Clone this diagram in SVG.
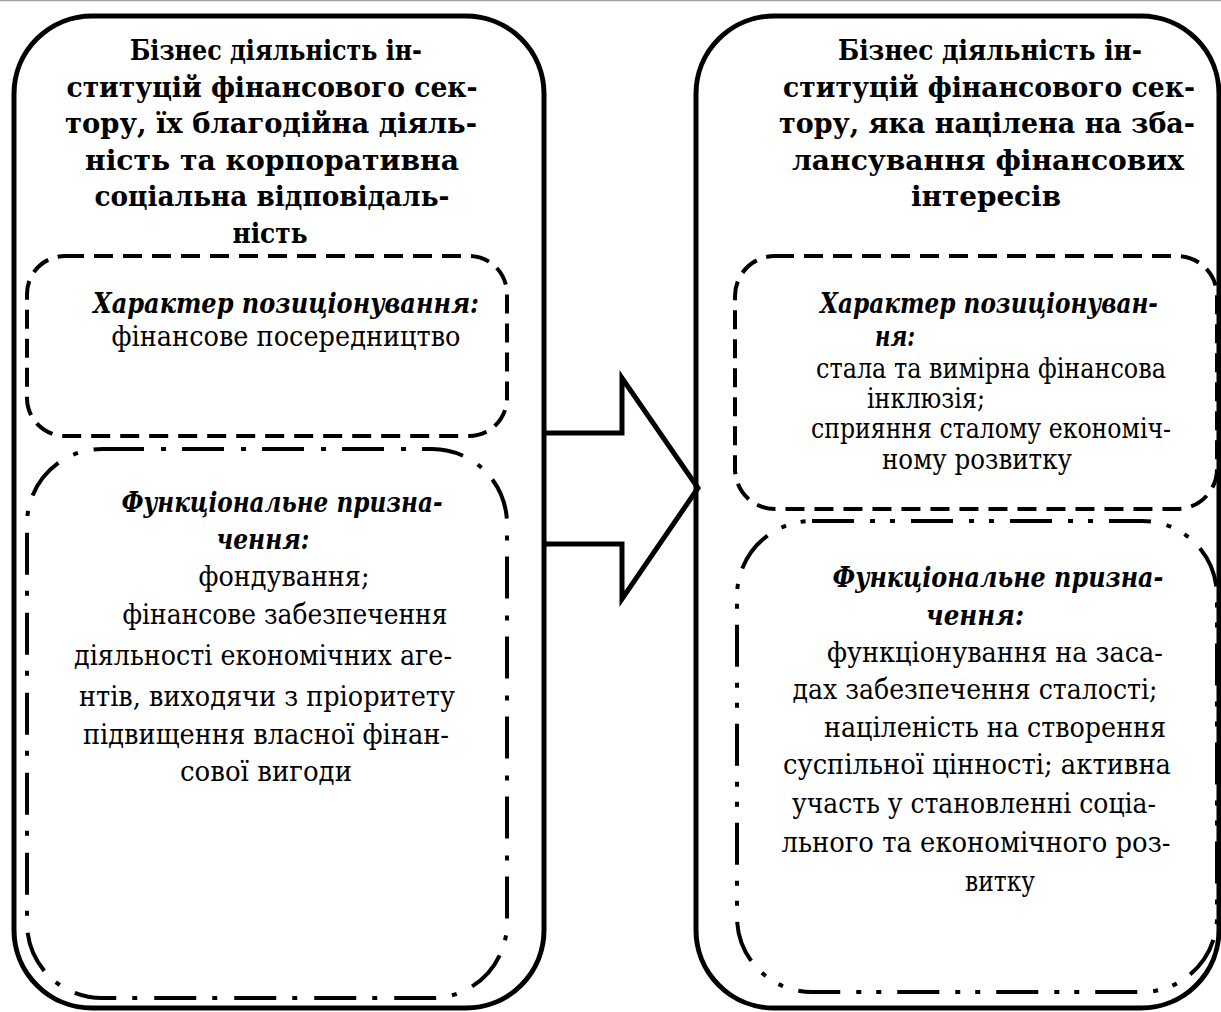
<svg xmlns="http://www.w3.org/2000/svg" width="1221" height="1012" viewBox="0 0 1221 1012">
<style>
.outer{fill:none;stroke:#000;stroke-width:5}
.dash{fill:none;stroke:#000;stroke-width:4;stroke-dasharray:19 10}
.dashdot{fill:none;stroke:#000;stroke-width:4;stroke-dasharray:42 17 5 16}
.dashdotdot{fill:none;stroke:#000;stroke-width:4;stroke-dasharray:42 16 5 15 5 16}
text{font-family:"DejaVu Serif","Liberation Serif",serif;font-size:27px;fill:#000;text-anchor:middle}
.b{font-weight:bold;font-size:27.5px}
.bi{font-weight:bold;font-style:italic}
</style>
<rect x="0" y="0" width="1221" height="1012" fill="#fff"/>
<line x1="0" y1="0.5" x2="1221" y2="0.5" stroke="#a0a0a0" stroke-width="1.5"/>
<g id="left-block">
<rect class="outer" x="14" y="16" width="530" height="992" rx="78"/>
<text class="b" x="276" y="60" textLength="292" lengthAdjust="spacingAndGlyphs">Бізнес діяльність ін-</text>
<text class="b" x="272" y="97" textLength="411" lengthAdjust="spacingAndGlyphs">ституцій фінансового сек-</text>
<text class="b" x="271" y="133" textLength="412" lengthAdjust="spacingAndGlyphs">тору, їх благодійна діяль-</text>
<text class="b" x="272" y="170" textLength="374" lengthAdjust="spacingAndGlyphs">ність та корпоративна</text>
<text class="b" x="272" y="206" textLength="355" lengthAdjust="spacingAndGlyphs">соціальна відповідаль-</text>
<text class="b" x="270" y="243" textLength="75" lengthAdjust="spacingAndGlyphs">ність</text>
</g>
<g id="left-position">
<rect class="dash" x="27" y="256" width="480" height="180" rx="38"/>
<text class="bi" x="286" y="313" textLength="386" lengthAdjust="spacingAndGlyphs">Характер позиціонування:</text>
<text x="286" y="346" textLength="349" lengthAdjust="spacingAndGlyphs">фінансове посередництво</text>
</g>
<g id="left-function">
<rect class="dashdot" x="27" y="449" width="480" height="549" rx="75"/>
<text class="bi" x="282" y="512" textLength="321" lengthAdjust="spacingAndGlyphs">Функціональне призна-</text>
<text class="bi" x="263" y="549" textLength="93" lengthAdjust="spacingAndGlyphs">чення:</text>
<text x="284" y="586" textLength="171" lengthAdjust="spacingAndGlyphs">фондування;</text>
<text x="285" y="624" textLength="325" lengthAdjust="spacingAndGlyphs">фінансове забезпечення</text>
<text x="263" y="665" textLength="378" lengthAdjust="spacingAndGlyphs">діяльності економічних аге-</text>
<text x="267" y="706" textLength="376" lengthAdjust="spacingAndGlyphs">нтів, виходячи з пріоритету</text>
<text x="266" y="744" textLength="366" lengthAdjust="spacingAndGlyphs">підвищення власної фінан-</text>
<text x="266" y="781" textLength="172" lengthAdjust="spacingAndGlyphs">сової вигоди</text>
</g>
<g id="right-block">
<rect class="outer" x="696" y="16" width="523" height="992" rx="78"/>
<text class="b" x="990" y="60" textLength="304" lengthAdjust="spacingAndGlyphs">Бізнес діяльність ін-</text>
<text class="b" x="989" y="97" textLength="412" lengthAdjust="spacingAndGlyphs">ституцій фінансового сек-</text>
<text class="b" x="987" y="133" textLength="416" lengthAdjust="spacingAndGlyphs">тору, яка націлена на зба-</text>
<text class="b" x="988" y="170" textLength="392" lengthAdjust="spacingAndGlyphs">лансування фінансових</text>
<text class="b" x="986" y="206" textLength="150" lengthAdjust="spacingAndGlyphs">інтересів</text>
</g>
<g id="right-position">
<rect class="dash" x="735" y="256" width="482" height="253" rx="40"/>
<text class="bi" x="989" y="313" textLength="338" lengthAdjust="spacingAndGlyphs">Характер позиціонуван-</text>
<text class="bi" x="895" y="346" textLength="40" lengthAdjust="spacingAndGlyphs">ня:</text>
<text x="991" y="378" textLength="350" lengthAdjust="spacingAndGlyphs">стала та вимірна фінансова</text>
<text x="926" y="408" textLength="118" lengthAdjust="spacingAndGlyphs">інклюзія;</text>
<text x="991" y="438" textLength="360" lengthAdjust="spacingAndGlyphs">сприяння сталому економіч-</text>
<text x="977" y="469" textLength="190" lengthAdjust="spacingAndGlyphs">ному розвитку</text>
</g>
<g id="right-function">
<rect class="dashdotdot" x="737" y="521" width="480" height="471" rx="75"/>
<text class="bi" x="998" y="587" textLength="331" lengthAdjust="spacingAndGlyphs">Функціональне призна-</text>
<text class="bi" x="975" y="625" textLength="98" lengthAdjust="spacingAndGlyphs">чення:</text>
<text x="995" y="662" textLength="336" lengthAdjust="spacingAndGlyphs">функціонування на заса-</text>
<text x="975" y="699" textLength="365" lengthAdjust="spacingAndGlyphs">дах забезпечення сталості;</text>
<text x="995" y="737" textLength="342" lengthAdjust="spacingAndGlyphs">націленість на створення</text>
<text x="977" y="774" textLength="388" lengthAdjust="spacingAndGlyphs">суспільної цінності; активна</text>
<text x="974" y="813" textLength="364" lengthAdjust="spacingAndGlyphs">участь у становленні соціа-</text>
<text x="976" y="852" textLength="389" lengthAdjust="spacingAndGlyphs">льного та економічного роз-</text>
<text x="1000" y="891" textLength="70" lengthAdjust="spacingAndGlyphs">витку</text>
</g>
<g id="connectors">
<polyline points="544,433 622,433 622,378 698,488 622,599 622,544 544,544" fill="none" stroke="#000" stroke-width="5" stroke-linejoin="miter"/>
</g>
</svg>
